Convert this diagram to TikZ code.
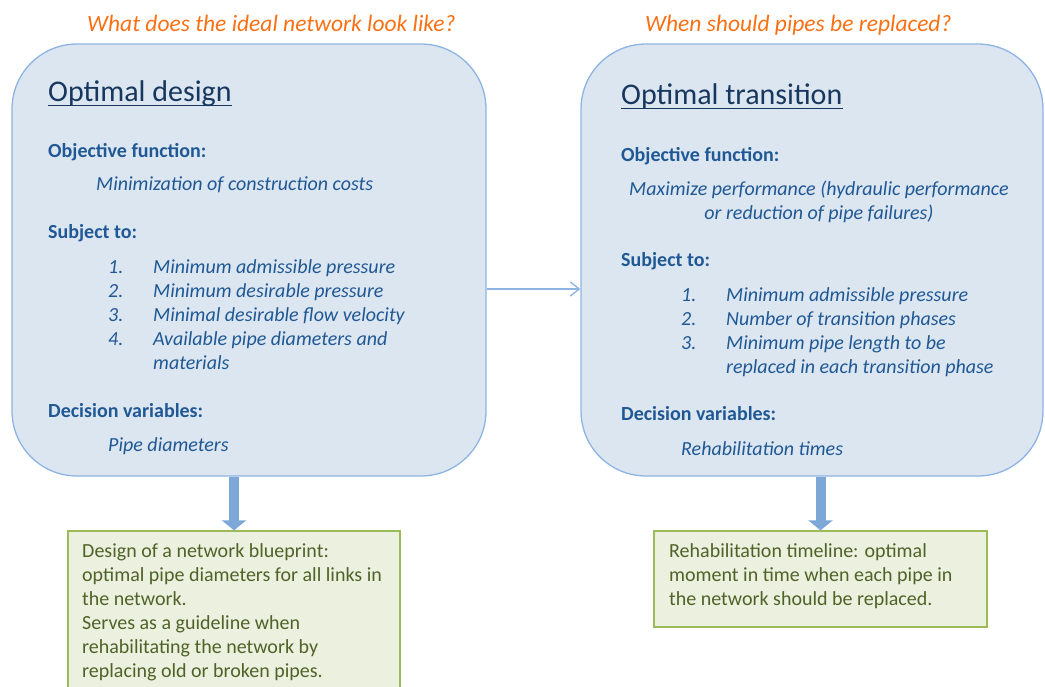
\documentclass[tikz,border=0pt]{standalone}
\usepackage{fontspec}
\setmainfont{Carlito}
\usetikzlibrary{arrows.meta}

\definecolor{cbox}{RGB}{220,230,241}
\definecolor{cedge}{RGB}{141,180,226}
\definecolor{carrow}{RGB}{125,167,215}
\definecolor{ctext}{RGB}{31,88,148}
\definecolor{ctitle}{RGB}{23,55,94}
\definecolor{corange}{RGB}{250,112,20}
\definecolor{cout}{RGB}{235,241,222}
\definecolor{coutedge}{RGB}{155,187,89}
\definecolor{couttext}{RGB}{79,98,40}
\newcommand\bodysize{\fontsize{20}{24}\selectfont}
\tikzset{
  optbox/.style={draw=cedge,fill=cbox,line width=1.3pt,rounded corners=65pt,inner sep=0pt},
  outbox/.style={draw=coutedge,fill=cout,line width=1.3pt,inner sep=0pt},
  txt/.style={inner sep=0pt,anchor=base west,text=ctext,font=\bodysize\itshape},
  hdr/.style={txt,font=\bodysize\bfseries},
  ttl/.style={inner sep=0pt,anchor=base west,text=ctitle,font=\fontsize{30}{36}\selectfont},
  question/.style={inner sep=0pt,anchor=base west,text=corange,font=\fontsize{23.5}{28}\selectfont\itshape},
  outtxt/.style={inner sep=0pt,anchor=north west,align=left,text=couttext,font=\bodysize},
}

\begin{document}
\begin{tikzpicture}[x=1pt,y=-1pt]
  \useasboundingbox (0,0) rectangle (1045,686);
  % the two optimisation problems
  \node[optbox,minimum width=474pt,minimum height=432pt] (design) at (249,260) {};
  \node[optbox,minimum width=462pt,minimum height=432pt] (transition) at (812,260) {};
  \coordinate (link) at (0,289);
  \draw[cedge,line width=1.3pt,-{Straight Barb[length=9pt,width=14pt]}] (design.east |- link) -- (transition.west |- link);
  \node[question] (qdesign) at (87,31) {What does the ideal network look like?};
  \node[question] (qtrans) at (645,31) {When should pipes be replaced?};

  % design problem
  \node[ttl] (dtitle) at (48,101) {Optimal design};
  \draw[ctitle,line width=1.2pt] ([yshift=-4.5pt]dtitle.base west) -- ([yshift=-4.5pt]dtitle.base east);
  \node[hdr] (dobj) at (48,157) {Objective function:};
  \node[txt] (dobjtxt) at (96,190) {Minimization of construction costs};
  \node[hdr] (dsub) at (48,238) {Subject to:};
  \foreach \i/\y/\t in {1/273/Minimum admissible pressure,2/297/Minimum desirable pressure,
      3/321/Minimal desirable flow velocity,4/345/Available pipe diameters and}
    {\node[txt] (dnum\i) at (108,\y) {\i.};
     \node[txt] (dcon\i) at (153,\y) {\t};}
  \node[txt] (dcon5) at (153,369) {materials};
  \node[hdr] (ddec) at (48,417) {Decision variables:};
  \node[txt] (dvar) at (108,451) {Pipe diameters};

  % transition problem
  \node[ttl] (ttitle) at (621,104) {Optimal transition};
  \draw[ctitle,line width=1.2pt] ([yshift=-4.5pt]ttitle.base west) -- ([yshift=-4.5pt]ttitle.base east);
  \node[hdr] (tobj) at (621,161) {Objective function:};
  \node[txt,anchor=north,align=center] (tobjtxt) at (819,178.2)
    {\strut Maximize performance (hydraulic performance\\or reduction of pipe failures)};
  \node[hdr] (tsub) at (621,266) {Subject to:};
  \foreach \i/\y/\t in {1/301/Minimum admissible pressure,2/325/Number of transition phases,
      3/349/Minimum pipe length to be}
    {\node[txt] (tnum\i) at (681,\y) {\i.};
     \node[txt] (tcon\i) at (726,\y) {\t};}
  \node[txt] (tcon4) at (726,373) {replaced in each transition phase};
  \node[hdr] (tdec) at (621,420) {Decision variables:};
  \node[txt] (tvar) at (681,455) {Rehabilitation times};

  % results
  \node[outbox,minimum width=332pt,minimum height=165pt] (blueprint) at (234,613.5) {};
  \node[outbox,minimum width=333pt,minimum height=96pt] (timeline) at (820.5,579) {};
  \draw[carrow,line width=10pt,-{Triangle[length=10pt,width=24pt]}] (design.south -| blueprint.north) -- (blueprint.north);
  \draw[carrow,line width=10pt,-{Triangle[length=10pt,width=24pt]}] (transition.south -| timeline.north) -- (timeline.north);
  \node[outtxt] (blueprinttxt) at (82,540.2)
    {\strut Design of a network blueprint:\\optimal pipe diameters for all links in\\the network.\\
     Serves as a guideline when\\rehabilitating the network by\\replacing old or broken pipes.};
  \node[outtxt] (timelinetxt) at (669,540.2)
    {\strut Rehabilitation timeline: optimal\\moment in time when each pipe in\\the network should be replaced.};
\end{tikzpicture}
\end{document}
